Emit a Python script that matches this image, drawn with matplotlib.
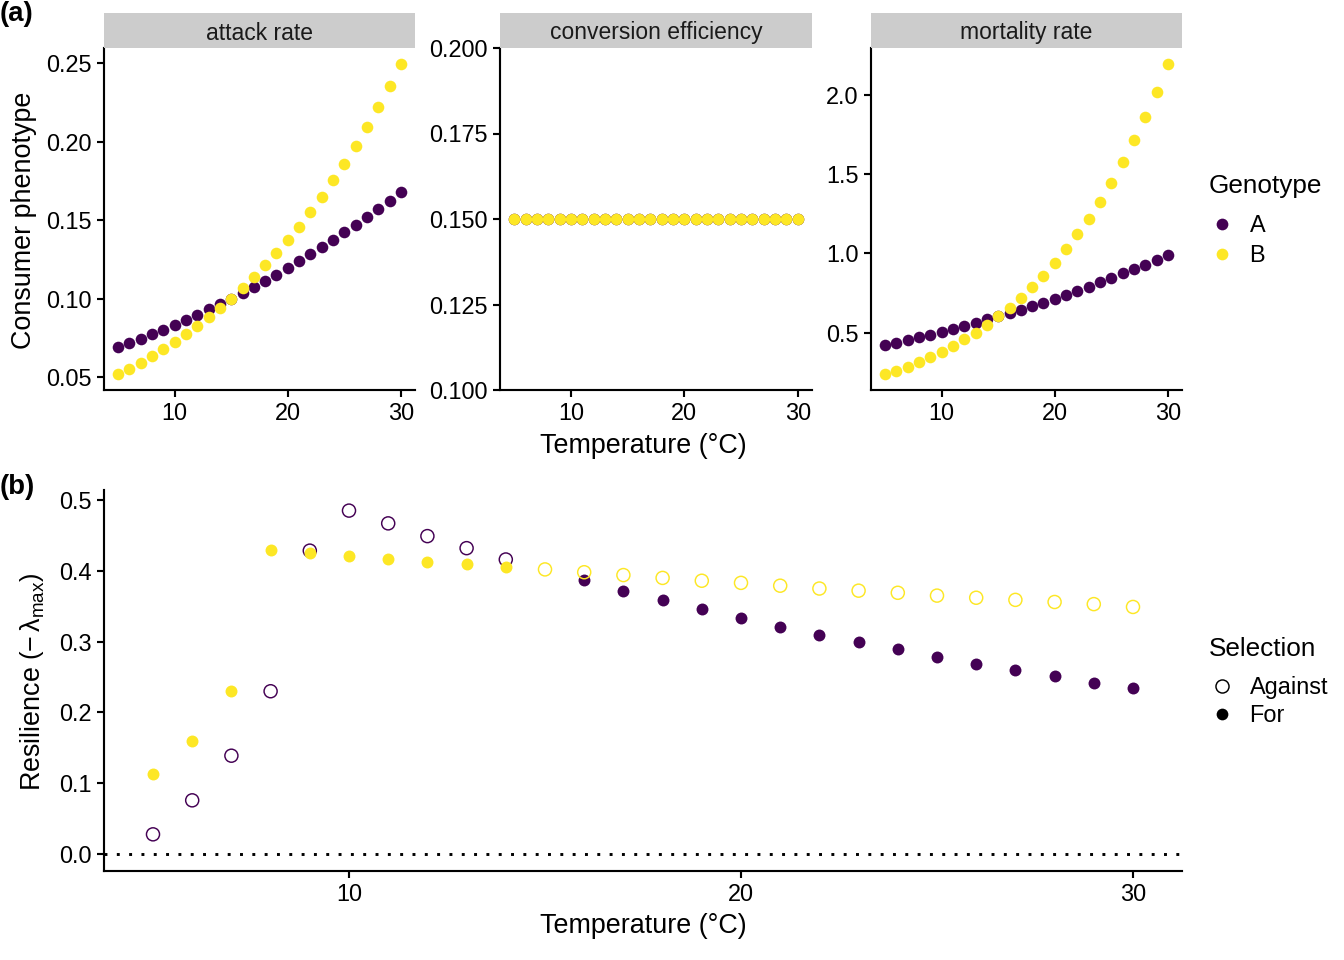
import matplotlib
matplotlib.use('Agg')
import matplotlib.pyplot as plt
import numpy as np
from matplotlib.lines import Line2D

plt.rcParams['font.family'] = ['Liberation Sans', 'DejaVu Sans']
plt.rcParams['mathtext.fontset'] = 'custom'
plt.rcParams['mathtext.rm'] = 'Liberation Sans'
plt.rcParams['mathtext.it'] = 'Liberation Sans:italic'
plt.rcParams['mathtext.sf'] = 'Liberation Sans'

# ---------------- data ----------------
temperature = list(range(5, 31))
genotypes = ['A', 'B']
colors = {'A': '#440154', 'B': '#FDE725'}

attack_A = [0.0691, 0.0719, 0.0745, 0.0774, 0.0804, 0.0834, 0.0864, 0.0898, 0.0934,
            0.0968, 0.1002, 0.1036, 0.1077, 0.1115, 0.1155, 0.1198, 0.1243, 0.1285,
            0.1330, 0.1374, 0.1423, 0.1470, 0.1521, 0.1572, 0.1623, 0.1679]
attack_B = [0.0519, 0.0553, 0.0594, 0.0636, 0.0679, 0.0723, 0.0774, 0.0828, 0.0885,
            0.0940, 0.1002, 0.1070, 0.1138, 0.1213, 0.1291, 0.1372, 0.1460, 0.1551,
            0.1651, 0.1755, 0.1860, 0.1972, 0.2094, 0.2223, 0.2355, 0.2498]
conversion_A = [0.15] * 26
conversion_B = [0.15] * 26
mortality_A = [0.420, 0.437, 0.454, 0.471, 0.487, 0.504, 0.521, 0.542, 0.563, 0.584,
               0.603, 0.622, 0.643, 0.666, 0.689, 0.713, 0.738, 0.765, 0.791, 0.818,
               0.845, 0.875, 0.904, 0.929, 0.959, 0.991]
mortality_B = [0.237, 0.260, 0.285, 0.315, 0.346, 0.380, 0.418, 0.458, 0.500, 0.548,
               0.603, 0.658, 0.721, 0.788, 0.860, 0.942, 1.026, 1.121, 1.218, 1.327,
               1.445, 1.574, 1.713, 1.860, 2.020, 2.197]

facet_titles = ['attack rate', 'conversion efficiency', 'mortality rate']
facet_data = [
    {'A': attack_A, 'B': attack_B},
    {'A': conversion_A, 'B': conversion_B},
    {'A': mortality_A, 'B': mortality_B},
]
facet_yticks = [[0.05, 0.10, 0.15, 0.20, 0.25],
                [0.100, 0.125, 0.150, 0.175, 0.200],
                [0.5, 1.0, 1.5, 2.0]]
facet_fmt = ['{:.2f}', '{:.3f}', '{:.1f}']

# panel (b): resilience
temp_against_A = [5, 6, 7, 8, 9, 10, 11, 12, 13, 14]
against_A = [0.028, 0.076, 0.139, 0.230, 0.4285, 0.485, 0.467, 0.449, 0.432, 0.416]
temp_against_B = list(range(15, 31))
against_B = [0.402, 0.398, 0.394, 0.390, 0.386, 0.383, 0.379, 0.375, 0.372, 0.369,
             0.365, 0.362, 0.359, 0.356, 0.353, 0.349]
temp_for_B = [5, 6, 7, 8, 9, 10, 11, 12, 13, 14]
for_B = [0.113, 0.160, 0.231, 0.429, 0.425, 0.421, 0.417, 0.413, 0.409, 0.405]
temp_for_A = list(range(16, 31))
for_A = [0.387, 0.372, 0.359, 0.346, 0.333, 0.321, 0.310, 0.299, 0.289, 0.278,
         0.269, 0.260, 0.251, 0.242, 0.235]

# ---------------- figure ----------------
W, H = 1344, 960
fig = plt.figure(figsize=(7, 5), dpi=192)

def px_axes(x0, y0, x1, y1):
    return fig.add_axes([x0 / W, 1 - y1 / H, (x1 - x0) / W, (y1 - y0) / H])

LW = 0.8
TICK_FS = 8.8
TITLE_FS = 10.1
LEG_TITLE_FS = 9.8

def style(ax):
    for s in ['top', 'right']:
        ax.spines[s].set_visible(False)
    for s in ['left', 'bottom']:
        ax.spines[s].set_linewidth(LW)
        ax.spines[s].set_color('black')
    ax.tick_params(axis='both', length=2.6, width=LW, color='black',
                   labelsize=TICK_FS, labelcolor='black', pad=2)
    ax.set_facecolor('white')

xlim = (5 - 0.05 * 25, 30 + 0.05 * 25)
panel_x = [(104, 415), (500, 812), (871, 1182)]
for i, (x0, x1) in enumerate(panel_x):
    ax = px_axes(x0, 48, x1, 390)
    style(ax)
    for g in genotypes:
        ax.scatter(temperature, facet_data[i][g], s=19, color=colors[g],
                   linewidths=0, zorder=3)
    ax.set_xlim(*xlim)
    ax.set_xticks([10, 20, 30])
    ax.set_xticklabels(['10', '20', '30'])
    if i == 1:
        ax.set_ylim(0.1, 0.2)
    else:
        allv = facet_data[i]['A'] + facet_data[i]['B']
        lo, hi = min(allv), max(allv)
        r = hi - lo
        ax.set_ylim(lo - 0.05 * r, hi + 0.05 * r)
    ax.set_yticks(facet_yticks[i])
    ax.set_yticklabels([facet_fmt[i].format(v) for v in facet_yticks[i]])
    # strip
    sax = px_axes(x0, 13, x1, 48)
    sax.set_facecolor('#CCCCCC')
    sax.set_xticks([]); sax.set_yticks([])
    for s in sax.spines.values():
        s.set_visible(False)
    sax.text(0.5, 0.5, facet_titles[i], ha='center', va='center_baseline',
             fontsize=8.6, color='#1A1A1A', transform=sax.transAxes)

fig.text(24 / W, 1 - 220 / H, 'Consumer phenotype', rotation=90, ha='center',
         va='center', fontsize=TITLE_FS)
fig.text(643 / W, 1 - 446 / H, 'Temperature (°C)', ha='center', va='center',
         fontsize=TITLE_FS)
fig.text(0 / W, 1 - 14 / H, '(a)', ha='left', va='center', fontsize=10.3,
         fontweight='bold')

# panel b
axb = px_axes(104, 490, 1182, 871)
style(axb)
axb.axhline(0, color='black', lw=1.1, linestyle=(0, (1, 3.2)), zorder=1)
# genotype A first, then B (B drawn on top)
axb.scatter(temp_against_A, against_A, s=24, facecolors='none',
            edgecolors=colors['A'], linewidths=0.55, zorder=3)
axb.scatter(temp_for_A, for_A, s=20, color=colors['A'], linewidths=0, zorder=3)
axb.scatter(temp_against_B, against_B, s=24, facecolors='none',
            edgecolors=colors['B'], linewidths=0.55, zorder=4)
axb.scatter(temp_for_B, for_B, s=20, color=colors['B'], linewidths=0, zorder=4)
axb.set_xlim(*xlim)
axb.set_xticks([10, 20, 30])
axb.set_xticklabels(['10', '20', '30'])
allb = against_A + against_B + for_A + for_B + [0.0]
lo, hi = min(allb), max(allb)
axb.set_ylim(lo - 0.049 * (hi - lo), hi + 0.06 * (hi - lo))
yt = [0.0, 0.1, 0.2, 0.3, 0.4, 0.5]
axb.set_yticks(yt)
axb.set_yticklabels(['{:.1f}'.format(v) for v in yt])

fig.text(33 / W, 1 - 682 / H,
         r'Resilience $\left(-\,\mathrm{λ}_{\mathrm{max}}\right)$',
         rotation=90, ha='center', va='center', fontsize=TITLE_FS)
fig.text(643 / W, 1 - 926 / H, 'Temperature (°C)', ha='center', va='center',
         fontsize=TITLE_FS)
fig.text(0 / W, 1 - 487 / H, '(b)', ha='left', va='center', fontsize=10.3,
         fontweight='bold')

# legends
h_gen = [Line2D([], [], marker='o', linestyle='none', markersize=4.4,
                markerfacecolor=colors[g], markeredgewidth=0) for g in genotypes]
leg1 = fig.legend(h_gen, genotypes, title='Genotype', loc='upper left',
                  bbox_to_anchor=(1199 / W, 1 - 165 / H), frameon=False,
                  fontsize=8.8, title_fontsize=LEG_TITLE_FS, handletextpad=0.55,
                  labelspacing=0.3, handlelength=1.2, borderaxespad=0)
leg1._legend_box.align = 'left'
leg1._legend_box.sep = 6.0
h_sel = [Line2D([], [], marker='o', linestyle='none', markersize=4.9,
                markerfacecolor='none', markeredgecolor='black', markeredgewidth=0.55),
         Line2D([], [], marker='o', linestyle='none', markersize=4.4,
                markerfacecolor='black', markeredgewidth=0)]
leg2 = fig.legend(h_sel, ['Against', 'For'], title='Selection', loc='upper left',
                  bbox_to_anchor=(1199 / W, 1 - 628 / H), frameon=False,
                  fontsize=8.8, title_fontsize=LEG_TITLE_FS, handletextpad=0.55,
                  labelspacing=0.2, handlelength=1.2, borderaxespad=0)
leg2._legend_box.align = 'left'
leg2._legend_box.sep = 5.6

fig.savefig('out.png', dpi=192, facecolor='white')
